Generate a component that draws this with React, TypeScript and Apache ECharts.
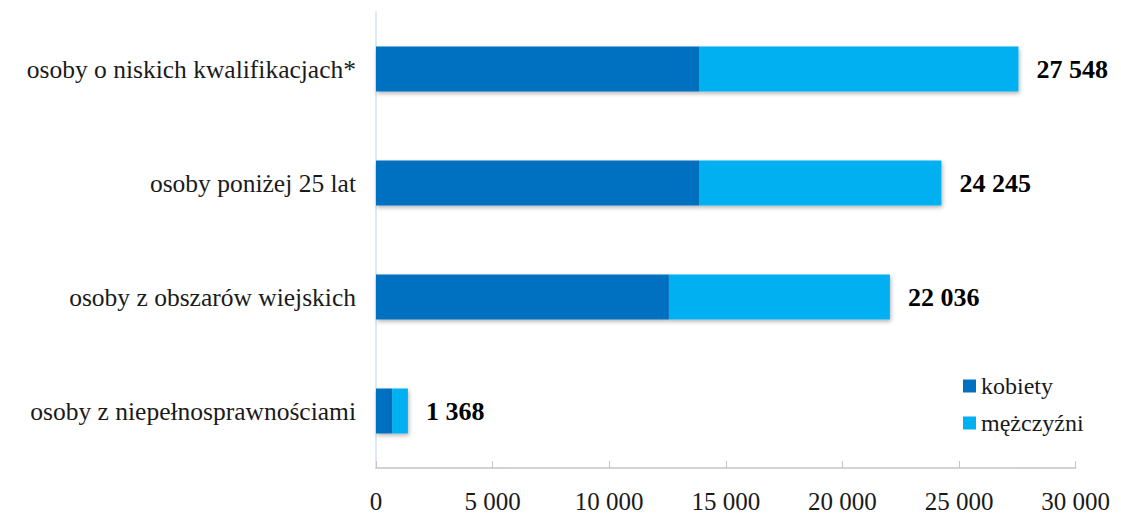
import React, { useEffect, useRef } from "react";
import * as echarts from "echarts";

const categories = [
  "osoby z niepełnosprawnościami",
  "osoby z obszarów wiejskich",
  "osoby poniżej 25 lat",
  "osoby o niskich kwalifikacjach*",
];
const kobiety = [690, 12560, 13850, 13850];
const totals = [1368, 22036, 24245, 27548];
const mezczyzni = totals.map((t, i) => t - kobiety[i]);
const xTicks = [0, 5000, 10000, 15000, 20000, 25000, 30000];

const fmt = (v: number) => String(v).replace(/\B(?=(\d{3})+(?!\d))/g, " ");

const FONT = "Liberation Serif";

export default function App() {
  const ref = useRef<HTMLDivElement>(null);
  useEffect(() => {
    if (!ref.current) return;
    const chart = echarts.init(ref.current, undefined, { renderer: "svg" });
    const shadow = {
      shadowBlur: 4,
      shadowOffsetY: 2,
      shadowOffsetX: 1,
      shadowColor: "rgba(0,0,0,0.3)",
    };
    chart.setOption({
      animation: false,
      textStyle: { fontFamily: FONT },
      grid: { left: 368, right: 35, top: 4, bottom: 37 },
      legend: {
        orient: "vertical",
        left: 950,
        top: 361,
        itemWidth: 13,
        itemHeight: 13,
        itemGap: 13,
        icon: "rect",
        textStyle: { fontFamily: FONT, fontSize: 24, color: "#1a1a1a" },
        data: ["kobiety", "mężczyźni"],
      },
      xAxis: {
        type: "value",
        min: 0,
        max: 30000,
        interval: 5000,
        axisLine: { show: true, lineStyle: { color: "#c4c4c4", width: 1.5 } },
        axisTick: { show: true, inside: true, length: 7, lineStyle: { color: "#c4c4c4" } },
        splitLine: { show: false },
        axisLabel: {
          fontFamily: FONT,
          fontSize: 25,
          color: "#1a1a1a",
          margin: 21,
          formatter: (v: number) => (xTicks.includes(v) ? fmt(v) : ""),
        },
      },
      yAxis: {
        type: "category",
        data: categories,
        axisLine: { show: true, lineStyle: { color: "#d5e2f0", width: 1.5 } },
        axisTick: { show: false },
        axisLabel: { fontFamily: FONT, fontSize: 25.5, color: "#1a1a1a", margin: 20 },
      },
      series: [
        {
          name: "kobiety",
          type: "bar",
          stack: "a",
          barWidth: 45,
          data: kobiety,
          itemStyle: { color: "#0070c0", ...shadow },
        },
        {
          name: "mężczyźni",
          type: "bar",
          stack: "a",
          barWidth: 45,
          data: mezczyzni,
          itemStyle: { color: "#00b0f0", ...shadow },
          label: {
            show: true,
            position: "right",
            distance: 18,
            fontFamily: FONT,
            fontSize: 26,
            fontWeight: "bold",
            color: "#000",
            formatter: (p: any) => fmt(totals[p.dataIndex]),
          },
        },
      ],
    });
    return () => chart.dispose();
  }, []);
  return <div ref={ref} style={{ width: 1105, height: 506 }} />;
}
